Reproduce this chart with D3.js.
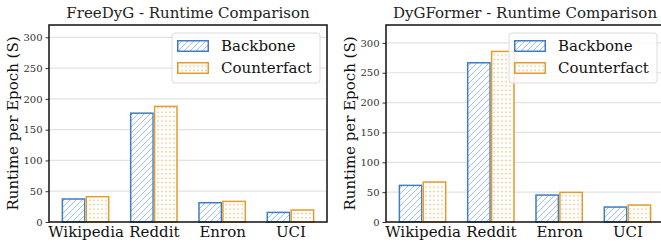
<!DOCTYPE html>
<html>
<head>
<meta charset="utf-8">
<script src="https://cdn.jsdelivr.net/npm/d3@7"></script>
<style>
  body { margin: 0; background: #fff; }
  svg { display: block; font-family: "DejaVu Serif", serif; }
</style>
</head>
<body>
<div id="chart"></div>
<script>
// data
var datasets = ["Wikipedia", "Reddit", "Enron", "UCI"];
var seriesNames = ["Backbone", "Counterfact"];
var freedygBackbone = [38.6, 178, 32.5, 16.8];
var freedygCounterfact = [42.3, 189, 34.7, 20.7];
var dygformerBackbone = [62.6, 268, 46.4, 26.3];
var dygformerCounterfact = [68.2, 287, 50.9, 29.7];
var yTicks = [0, 50, 100, 150, 200, 250, 300];

var svgWidth = 661;
var svgHeight = 244;

var svg = d3.select("#chart")
  .append("svg")
  .attr("width", svgWidth)
  .attr("height", svgHeight);

// hatch patterns
var defs = svg.append("defs");
var hatch = defs.append("pattern")
  .attr("id", "hatchBlue")
  .attr("patternUnits", "userSpaceOnUse")
  .attr("width", 6)
  .attr("height", 6);
hatch.append("path")
  .attr("d", "M0,6 L6,0 M-1,1 L1,-1 M5,7 L7,5")
  .attr("stroke", "#a3c0e6")
  .attr("stroke-width", 1);

var dots = defs.append("pattern")
  .attr("id", "dotsOrange")
  .attr("patternUnits", "userSpaceOnUse")
  .attr("width", 4)
  .attr("height", 4.4);
dots.append("rect")
  .attr("x", 1.4).attr("y", 1.6)
  .attr("width", 1.3).attr("height", 1.3)
  .attr("fill", "#ebb25c");

var colors = {
  Backbone: { edge: "#3f7cc6", fill: "url(#hatchBlue)" },
  Counterfact: { edge: "#e59b2f", fill: "url(#dotsOrange)" }
};

function drawPanel(opts) {
  var left = opts.left, right = opts.right, top = 25, bottom = 222;

  var x = d3.scaleLinear().domain([-0.535, 3.535]).range([left, right]);
  var y = d3.scaleLinear().domain([0, opts.ymax]).range([bottom, top]);
  var barW = x(0.35) - x(0);

  var g = svg.append("g");

  // grid
  g.append("g")
    .selectAll("line")
    .data(yTicks.slice(1))
    .enter()
    .append("line")
    .attr("x1", left).attr("x2", right)
    .attr("y1", d => y(d)).attr("y2", d => y(d))
    .attr("stroke", "#e2e2e2")
    .attr("stroke-width", 1.2);

  // bars
  var series = [opts.backbone, opts.counterfact];
  series.forEach(function(vals, si) {
    var name = seriesNames[si];
    g.append("g")
      .selectAll("rect")
      .data(vals)
      .enter()
      .append("rect")
      .attr("x", (d, i) => x(i) + (si - 1) * barW)
      .attr("y", d => y(d))
      .attr("width", barW)
      .attr("height", d => bottom - y(d))
      .attr("fill", "#fff");
    g.append("g")
      .selectAll("rect")
      .data(vals)
      .enter()
      .append("rect")
      .attr("x", (d, i) => x(i) + (si - 1) * barW + 0.75)
      .attr("y", d => y(d) + 0.75)
      .attr("width", barW - 1.5)
      .attr("height", d => bottom - y(d) - 0.75)
      .attr("fill", colors[name].fill)
      .attr("stroke", colors[name].edge)
      .attr("stroke-width", 1.5);
  });

  // axes
  var yAxis = d3.axisLeft(y).tickValues(yTicks).tickSize(3.5).tickPadding(3);
  var ya = g.append("g")
    .attr("transform", `translate(${left},0)`)
    .call(yAxis);
  ya.select(".domain").remove();
  ya.selectAll("text")
    .attr("font-family", "DejaVu Serif")
    .attr("font-size", 10)
    .attr("fill", "#333");
  ya.selectAll("line").attr("stroke", "#333");

  var xAxis = d3.axisBottom(x).tickValues([0, 1, 2, 3])
    .tickFormat(i => datasets[i]).tickSize(0).tickPadding(4);
  var xa = g.append("g")
    .attr("transform", `translate(0,${bottom})`)
    .call(xAxis);
  xa.select(".domain").remove();
  xa.selectAll("text")
    .attr("font-family", "DejaVu Serif")
    .attr("font-size", 15)
    .attr("fill", "#111");

  // frame
  g.append("rect")
    .attr("x", left).attr("y", top)
    .attr("width", right - left).attr("height", bottom - top)
    .attr("fill", "none")
    .attr("stroke", "#111")
    .attr("stroke-width", 1.5);

  // title
  g.append("text")
    .attr("x", (left + right) / 2)
    .attr("y", 18)
    .attr("text-anchor", "middle")
    .attr("font-size", 15)
    .attr("fill", "#222")
    .text(opts.title);

  // y label
  g.append("text")
    .attr("transform", `translate(${opts.ylabelX},${(top + bottom) / 2}) rotate(-90)`)
    .attr("text-anchor", "middle")
    .attr("font-size", 15)
    .attr("fill", "#111")
    .text("Runtime per Epoch (S)");

  // legend
  var lx = right - 155, ly = 33;
  var legend = g.append("g").attr("transform", `translate(${lx},${ly})`);
  legend.append("rect")
    .attr("width", 148).attr("height", 50)
    .attr("rx", 3)
    .attr("fill", "#fff").attr("fill-opacity", 0.8)
    .attr("stroke", "#dcdcdc");
  seriesNames.forEach(function(name, i) {
    legend.append("rect")
      .attr("x", 5.75).attr("y", 7.75 + i * 22)
      .attr("width", 30.5).attr("height", 10.5)
      .attr("fill", colors[name].fill)
      .attr("stroke", colors[name].edge)
      .attr("stroke-width", 1.5);
    legend.append("text")
      .attr("x", 49).attr("y", 18 + i * 22)
      .attr("font-size", 15)
      .attr("fill", "#111")
      .text(name);
  });
}

drawPanel({
  title: "FreeDyG - Runtime Comparison",
  left: 49, right: 327, ymax: 320, ylabelX: 18,
  backbone: freedygBackbone, counterfact: freedygCounterfact
});

drawPanel({
  title: "DyGFormer - Runtime Comparison",
  left: 386, right: 664, ymax: 330, ylabelX: 355,
  backbone: dygformerBackbone, counterfact: dygformerCounterfact
});
</script>
</body>
</html>
